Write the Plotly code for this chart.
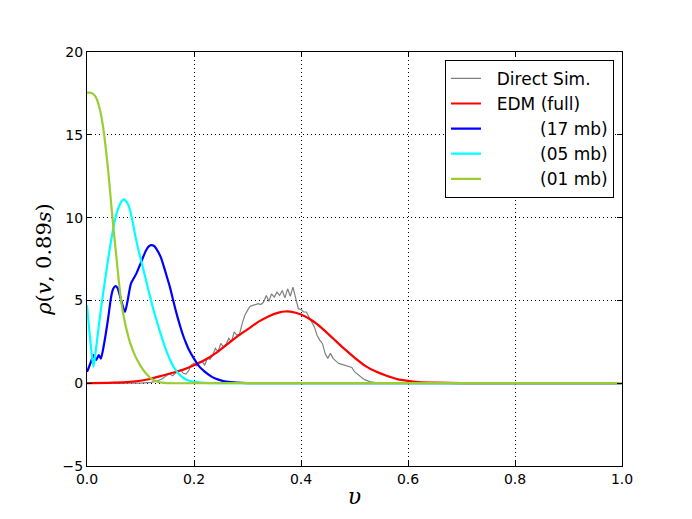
import plotly.graph_objects as go

# ---------------- data ----------------
v_sim = [0, 0.1, 0.12, 0.13, 0.14,
         0.15, 0.155, 0.16, 0.165, 0.17, 0.175, 0.18, 0.185, 0.19, 0.195,
         0.2, 0.205, 0.21, 0.215, 0.22, 0.225, 0.23, 0.235, 0.24, 0.245,
         0.25, 0.255, 0.26, 0.265, 0.27, 0.275, 0.28, 0.285, 0.29, 0.295,
         0.3, 0.305, 0.31, 0.315, 0.32, 0.325, 0.33, 0.335, 0.34, 0.345,
         0.35, 0.355, 0.36, 0.365, 0.37, 0.375, 0.38, 0.385, 0.39, 0.395,
         0.4, 0.405, 0.41, 0.415, 0.42, 0.425, 0.43, 0.435, 0.44, 0.445,
         0.45, 0.455, 0.46, 0.465, 0.47, 0.475, 0.48, 0.485, 0.49, 0.495,
         0.5, 0.505, 0.51, 0.515, 0.52, 0.525, 0.53, 0.54, 0.55, 0.6, 1.0]
rho_sim = [0, 0, 0.05, 0.12, 0.25,
           0.5, 0.55, 0.45, 0.6, 0.7, 0.8, 0.6, 0.55, 0.75, 1.1,
           1.2, 1.05, 1.3, 1.3, 1.1, 1.5, 1.45, 1.7, 2.1, 1.9,
           2.4, 2.2, 2.35, 2.7, 2.5, 3.1, 2.9, 2.95, 3.6, 4.1,
           4.4, 4.65, 4.7, 4.75, 4.8, 4.75, 4.9, 5.3, 4.95, 5.4,
           5.2, 5.5, 5.3, 5.6, 5.15, 5.7, 5.25, 5.8, 5.1, 4.5,
           4.45, 4.3, 4.3, 3.95, 3.7, 3.4, 2.9, 2.6, 2.4, 1.8,
           1.5, 1.8, 1.5, 1.35, 1.2, 1.15, 1.1, 1.05, 1.0, 0.95,
           0.7, 0.55, 0.4, 0.3, 0.2, 0.12, 0.08, 0.04, 0.02, 0, 0]

v_full = [0, 0.05, 0.08, 0.1, 0.12, 0.14, 0.16, 0.18, 0.2, 0.22, 0.24, 0.26,
          0.28, 0.3, 0.32, 0.34, 0.36, 0.37, 0.38, 0.4, 0.42, 0.44, 0.46, 0.48,
          0.5, 0.52, 0.54, 0.56, 0.58, 0.6, 0.62, 0.65, 0.7, 0.75, 1.0]
rho_full = [0.0, 0.03, 0.08, 0.15, 0.27, 0.45, 0.63, 0.82, 1.08, 1.4, 1.8, 2.3,
            2.8, 3.25, 3.7, 4.05, 4.28, 4.33, 4.32, 4.15, 3.8, 3.3, 2.7, 2.1,
            1.55, 1.05, 0.7, 0.45, 0.25, 0.14, 0.07, 0.03, 0.01, 0.0, 0.0]

v_17 = [0, 0.004, 0.008, 0.012, 0.017, 0.022, 0.026, 0.032, 0.039, 0.045,
        0.049, 0.053, 0.057, 0.061, 0.066, 0.071, 0.076, 0.082, 0.092, 0.101,
        0.11, 0.115, 0.12, 0.125, 0.13, 0.138, 0.145, 0.15, 0.155, 0.16,
        0.165, 0.17, 0.175, 0.18, 0.186, 0.19, 0.2, 0.21, 0.22, 0.23, 0.24,
        0.25, 0.26, 0.28, 0.3, 0.5, 1.0]
rho_17 = [0.68, 1.0, 1.35, 1.69, 1.39, 1.69, 1.49, 2.39, 3.8, 5.2,
          5.7, 5.86, 5.75, 5.35, 4.75, 4.3, 5.0, 6.0, 6.6, 7.3,
          8.0, 8.25, 8.34, 8.3, 8.1, 7.6, 6.9, 6.35, 5.8, 5.15,
          4.5, 3.9, 3.35, 2.85, 2.35, 2.05, 1.48, 1.0, 0.7, 0.46, 0.28,
          0.17, 0.1, 0.03, 0.0, 0.0, 0.0]

v_05 = [0, 0.004, 0.008, 0.012, 0.015, 0.02, 0.025, 0.03, 0.035, 0.04, 0.045,
        0.05, 0.055, 0.06, 0.065, 0.069, 0.075, 0.08, 0.085, 0.09, 0.095,
        0.1, 0.105, 0.11, 0.115, 0.12, 0.125, 0.13, 0.135, 0.14, 0.145,
        0.15, 0.155, 0.16, 0.165, 0.17, 0.18, 0.19, 0.2, 0.22, 0.25, 0.5, 1.0]
rho_05 = [4.7, 3.3, 2.0, 1.0, 1.6, 2.9, 4.2, 5.4, 6.5, 7.6, 8.6,
          9.5, 10.2, 10.7, 11.0, 11.1, 10.9, 10.5, 9.8, 8.95, 8.2,
          7.55, 6.9, 6.25, 5.6, 4.95, 4.35, 3.8, 3.25, 2.75, 2.25,
          1.82, 1.43, 1.1, 0.83, 0.62, 0.33, 0.16, 0.08, 0.02, 0.0, 0.0, 0.0]

v_01 = [0, 0.005, 0.01, 0.015, 0.02, 0.025, 0.03, 0.035, 0.04, 0.045, 0.05,
        0.055, 0.06, 0.065, 0.07, 0.075, 0.08, 0.09, 0.1, 0.11, 0.12, 0.13,
        0.14, 0.15, 0.2, 0.4, 0.6, 0.8, 1.0]
rho_01 = [17.55, 17.55, 17.5, 17.35, 17.0, 16.4, 15.5, 14.2, 12.7, 10.9, 9.2,
          7.6, 6.0, 4.7, 3.8, 3.1, 2.5, 1.65, 1.05, 0.6, 0.28, 0.1,
          0.03, 0.0, 0.0, 0.0, 0.0, 0.0, 0.0]

pad = "\u00a0" * 2
names = [pad + "Direct Sim.", pad + "EDM (full)",
         pad + "\u00a0" * 8 + "(17 mb)", pad + "\u00a0" * 8 + "(05 mb)",
         pad + "\u00a0" * 8 + "(01 mb)"]
colors = ["#808080", "#ff0000", "#0000ff", "#00ffff", "#9acd32"]
widths = [1.2, 2.2, 2.2, 2.2, 2.2]

x_ticks = [0.0, 0.2, 0.4, 0.6, 0.8, 1.0]
y_ticks = [-5, 0, 5, 10, 15, 20]

# ---------------- figure ----------------
series = [(v_sim, rho_sim), (v_full, rho_full), (v_17, rho_17),
          (v_05, rho_05), (v_01, rho_01)]

fig = go.Figure()
for i, ((xs, ys), nm, c, w) in enumerate(zip(series, names, colors, widths)):
    fig.add_trace(go.Scatter(
        x=xs, y=ys, mode="lines", name=nm,
        line=dict(color=c, width=w, shape="linear" if i == 0 else "spline",
                  smoothing=0.6),
    ))

tick_font = dict(family="DejaVu Sans", size=14, color="black")
grid = dict(showgrid=True, gridcolor="black", griddash="1px,3px", gridwidth=1)
fig.update_layout(
    width=692, height=519,
    # page body adds an 8px offset; margins compensate so the plot area
    # lands at x 87-622, y 52-466 of the window
    margin=dict(l=79, r=78, t=44, b=61, autoexpand=False),
    paper_bgcolor="white", plot_bgcolor="white",
    showlegend=True,
    legend=dict(x=0.985, y=0.981, xanchor="right", yanchor="top",
                bgcolor="white", bordercolor="black", borderwidth=1,
                font=dict(family="DejaVu Sans", size=17, color="black"),
                itemwidth=30),
    xaxis=dict(range=[0, 1], tickvals=x_ticks, tickformat=".1f",
               showline=True, linecolor="black", linewidth=1, mirror="ticks",
               ticks="inside", ticklen=5, tickcolor="black",
               zeroline=False, tickfont=tick_font, automargin=False, **grid,
               title=dict(text="<i>υ</i>", font=dict(family="DejaVu Serif", size=22, color="black"),
                          standoff=2)),
    yaxis=dict(range=[-5, 20], tickvals=y_ticks,
               showline=True, linecolor="black", linewidth=1, mirror="ticks",
               ticks="inside", ticklen=5, tickcolor="black",
               zeroline=False, tickfont=tick_font, automargin=False, **grid,
               title=dict(text="<i>ρ</i>(<i>v</i>, 0.89<i>s</i>)",
                          font=dict(family="DejaVu Serif", size=21, color="black"),
                          standoff=5)),
)

fig.write_html("out.html")
